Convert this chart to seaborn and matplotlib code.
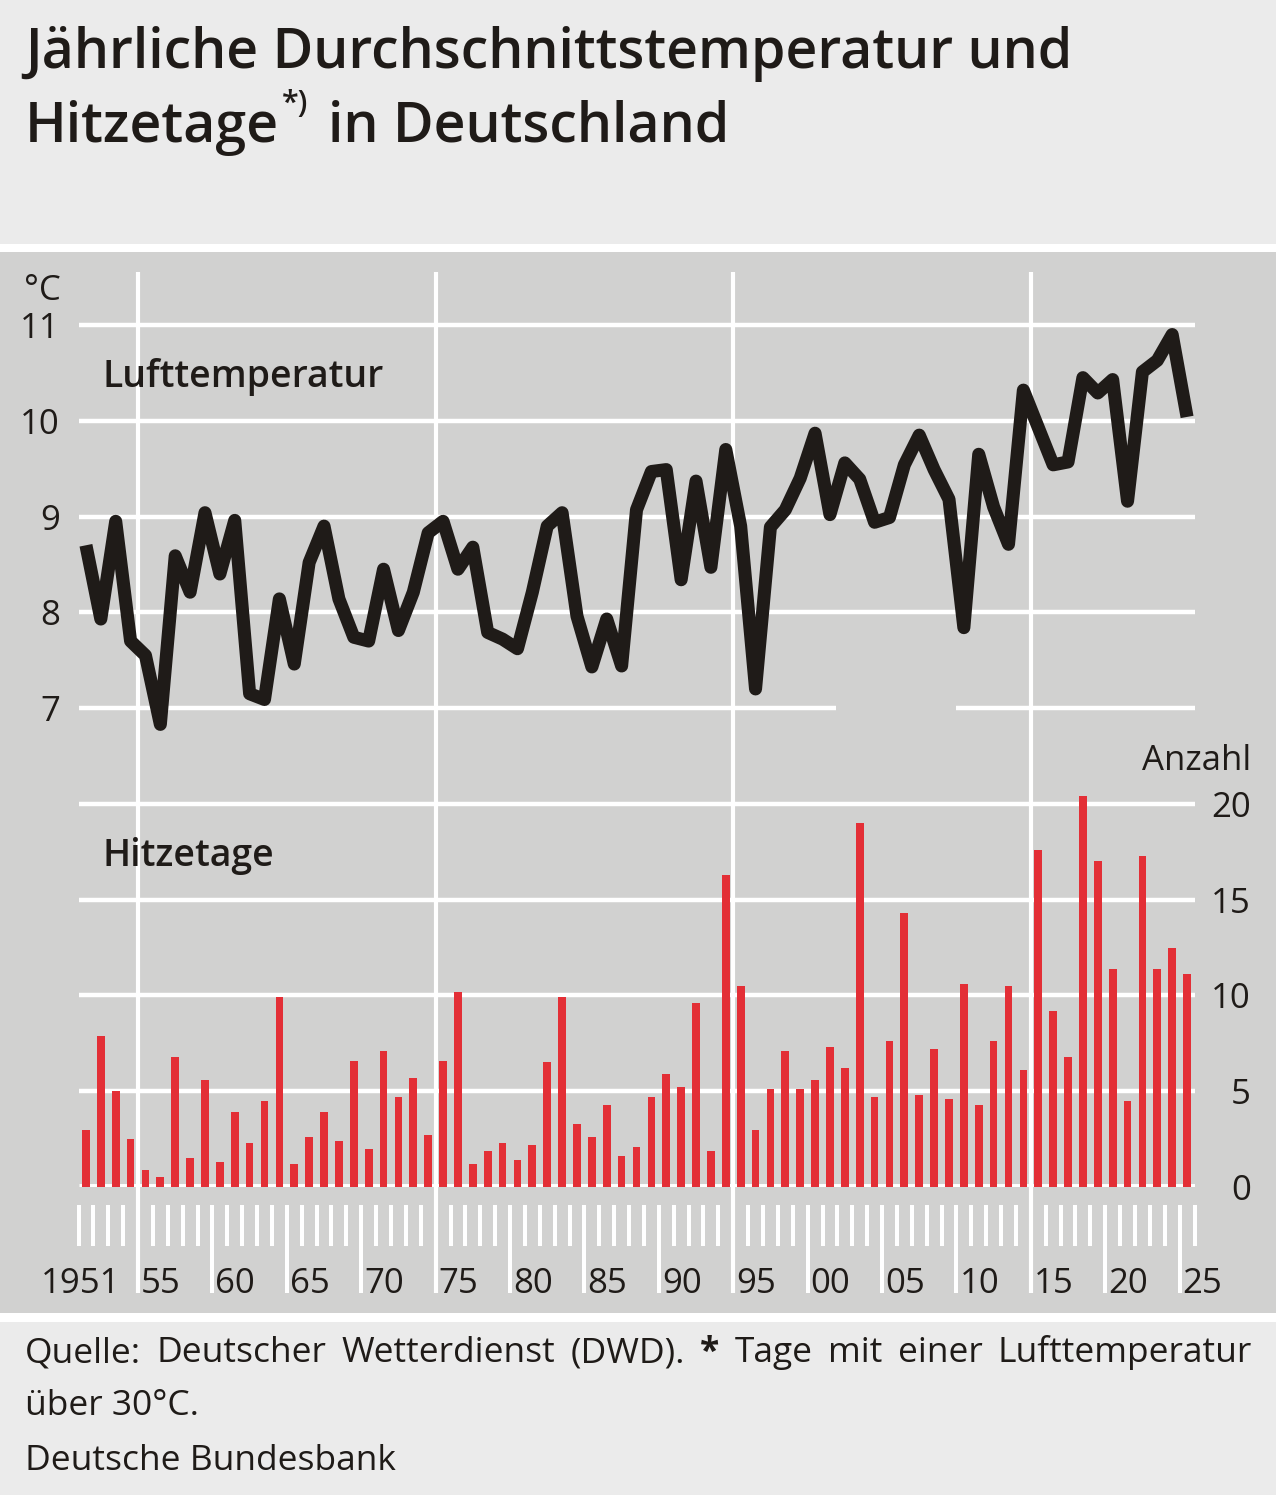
import numpy as np
import pandas as pd
import seaborn as sns
import matplotlib.pyplot as plt
from matplotlib import transforms
from matplotlib.patches import Rectangle

# annual values 1951-2025
years = np.arange(1951, 2026)
temperature = [
    8.70, 7.93, 8.95, 7.70, 7.55, 6.83, 8.59, 8.21, 9.04, 8.40,
    8.96, 7.15, 7.09, 8.14, 7.46, 8.52, 8.90, 8.14, 7.74, 7.70,
    8.45, 7.81, 8.21, 8.83, 8.95, 8.45, 8.68, 7.79, 7.72, 7.62,
    8.21, 8.90, 9.04, 7.96, 7.43, 7.93, 7.44, 9.07, 9.47, 9.49,
    8.34, 9.37, 8.47, 9.70, 8.90, 7.20, 8.89, 9.07, 9.40, 9.87,
    9.02, 9.56, 9.39, 8.94, 8.99, 9.54, 9.85, 9.49, 9.18, 7.84,
    9.65, 9.10, 8.71, 10.32, 9.93, 9.54, 9.57, 10.45, 10.29, 10.43,
    9.16, 10.51, 10.63, 10.90, 10.04,
]
hot_days = [
    3.0, 7.9, 5.0, 2.5, 0.9, 0.5, 6.8, 1.5, 5.6, 1.3,
    3.9, 2.3, 4.5, 9.9, 1.2, 2.6, 3.9, 2.4, 6.6, 2.0,
    7.1, 4.7, 5.7, 2.7, 6.6, 10.2, 1.2, 1.9, 2.3, 1.4,
    2.2, 6.5, 9.9, 3.3, 2.6, 4.3, 1.6, 2.1, 4.7, 5.9,
    5.2, 9.6, 1.9, 16.3, 10.5, 3.0, 5.1, 7.1, 5.1, 5.6,
    7.3, 6.2, 19.0, 4.7, 7.6, 14.3, 4.8, 7.2, 4.6, 10.6,
    4.3, 7.6, 10.5, 6.1, 17.6, 9.2, 6.8, 20.4, 17.0, 11.4,
    4.5, 17.3, 11.4, 12.5, 11.1,
]

temp_ticks = [7, 8, 9, 10, 11]
day_ticks = [0, 5, 10, 15, 20]
grid_years = [1955, 1975, 1995, 2015]
label_years = [1951] + list(range(1955, 2026, 5))
year_labels = ["1951", "55", "60", "65", "70", "75", "80", "85", "90", "95",
               "00", "05", "10", "15", "20", "25"]

title_1 = "Jährliche Durchschnittstemperatur und"
title_2a = "Hitzetage"
title_2b = "*)"
title_2c = "in Deutschland"
footer_1 = [("Quelle:", "normal"), ("Deutscher", "normal"), ("Wetterdienst", "normal"),
            ("(DWD).", "normal"), ("*", "bold"), ("Tage", "normal"), ("mit", "normal"),
            ("einer", "normal"), ("Lufttemperatur", "normal")]
footer_2 = "über 30°C."
footer_3 = "Deutsche Bundesbank"

df = pd.DataFrame({"year": years + 0.5, "temp": temperature, "days": hot_days})

BG_LIGHT = "#ebebeb"
BG_CHART = "#d1d1d0"
INK = "#1f1b18"
RED = "#e32f36"
W, H = 1276, 1495

sns.set_theme(style="white")
plt.rcParams["font.family"] = ["Open Sans", "DejaVu Sans"]
plt.rcParams["text.color"] = INK

fig = plt.figure(figsize=(W / 100, H / 100), dpi=100)
fig.patch.set_facecolor(BG_LIGHT)


def fy(py):
    return 1 - py / H


# chart band and white separators (behind the axes)
fig.patches.append(Rectangle((0, fy(1313)), 1, (1313 - 252) / H, transform=fig.transFigure,
                             facecolor=BG_CHART, edgecolor="none", zorder=-2))
for top, bottom in [(244, 252), (1313, 1322)]:
    fig.patches.append(Rectangle((0, fy(bottom)), 1, (bottom - top) / H, transform=fig.transFigure,
                                 facecolor="white", edgecolor="none", zorder=-2))

# axes: x from 1951.0 to 2026.0, bottom = 0 Hitzetage
ax = fig.add_axes([78.5 / W, fy(1187), (1194.5 - 78.5) / W, (1187 - 252) / H])
ax.patch.set_visible(False)

sns.barplot(data=df, x="year", y="days", native_scale=True, width=0.52, color=RED,
            saturation=1, errorbar=None, linewidth=0, ax=ax, zorder=3)
ax.set_xlim(1951, 2026)
ax.set_ylim(0, 48.81)

tax = ax.twinx()
tax.patch.set_visible(False)
sns.lineplot(data=df, x="year", y="temp", color=INK, linewidth=9.4, errorbar=None,
             ax=tax, zorder=4)
tax.lines[0].set_solid_joinstyle("round")
tax.lines[0].set_solid_capstyle("butt")
tax.set_ylim(2, 11.762)
tax.set_xlim(1951, 2026)

for a in (ax, tax):
    for s in a.spines.values():
        s.set_visible(False)
    a.tick_params(left=False, right=False, bottom=False, top=False,
                  labelleft=False, labelright=False, labelbottom=False)
    a.set_xlabel("")
    a.set_ylabel("")

# gridlines
ax.hlines(day_ticks[1:], 1951, 2026, color="white", lw=3.2, zorder=1)
ax.hlines(0, 1951, 2026, color="white", lw=5, zorder=2)
tax.hlines(temp_ticks[1:], 1951, 2026, color="white", lw=3.2, zorder=1)
tax.hlines(temp_ticks[0], 1951, 2001.9, color="white", lw=3.2, zorder=1)
tax.hlines(temp_ticks[0], 2010.0, 2026, color="white", lw=3.2, zorder=1)
xt = ax.get_xaxis_transform()
ax.vlines(grid_years, -0.1134, 0.9786, color="white", lw=3, transform=xt, clip_on=False, zorder=1)

# year ticks below the axis
tick_years = np.arange(1951, 2027)
short = [y for y in tick_years if y % 5 != 0]
long_ = [y for y in tick_years if y % 5 == 0 and y not in grid_years]
ax.vlines(short, -0.0631, -0.0193, color="white", lw=2.9, transform=xt, clip_on=False)
ax.vlines(long_, -0.1134, -0.0193, color="white", lw=2.9, transform=xt, clip_on=False)

for yr, lab in zip(label_years, year_labels):
    if yr == 1951:
        ax.text(1953.8, -0.1134, lab, transform=xt, ha="right", va="baseline", fontsize=25)
    else:
        ax.text(yr + 0.2, -0.1134, lab, transform=xt, ha="left", va="baseline", fontsize=25)


def side_labels(axis, values, px, ha):
    trans = transforms.blended_transform_factory(fig.transFigure, axis.transData)
    trans = transforms.offset_copy(trans, fig=fig, y=-13, units="dots")
    for v in values:
        axis.text(px / W, v, str(v), transform=trans, ha=ha, va="baseline", fontsize=25)


side_labels(tax, temp_ticks, 60, "right")
side_labels(ax, day_ticks, 1251, "right")

fig.text(24 / W, fy(300), "°C", fontsize=25, ha="left", va="baseline")
fig.text(1251 / W, fy(770), "Anzahl", fontsize=25, ha="right", va="baseline")
fig.text(103 / W, fy(387), "Lufttemperatur", fontsize=27, fontweight="semibold", va="baseline")
fig.text(103 / W, fy(866), "Hitzetage", fontsize=27, fontweight="semibold", va="baseline")

# title
renderer = fig.canvas.get_renderer()
fig.text(25 / W, fy(68), title_1, fontsize=40, fontweight="semibold", va="baseline")
t2 = fig.text(25 / W, fy(142), title_2a, fontsize=40, fontweight="semibold", va="baseline")
x_end = t2.get_window_extent(renderer).x1
t3 = fig.text((x_end + 3) / W, fy(112), title_2b, fontsize=22, fontweight="semibold", va="baseline")
x_end = t3.get_window_extent(renderer).x1
fig.text((x_end + 20) / W, fy(142), title_2c, fontsize=40, fontweight="semibold", va="baseline")

# footer, first line justified
texts = [fig.text(0, fy(1362), w, fontsize=25.5, fontweight=wt, va="baseline") for w, wt in footer_1]
widths = [t.get_window_extent(renderer).width for t in texts]
gap = (1252 - 25 - sum(widths)) / (len(texts) - 1)
x = 25
for t, w in zip(texts, widths):
    t.set_x(x / W)
    x += w + gap
fig.text(25 / W, fy(1415), footer_2, fontsize=25.5, va="baseline")
fig.text(25 / W, fy(1470), footer_3, fontsize=25.5, va="baseline")

fig.savefig("out.png", dpi=100, facecolor=fig.get_facecolor())
